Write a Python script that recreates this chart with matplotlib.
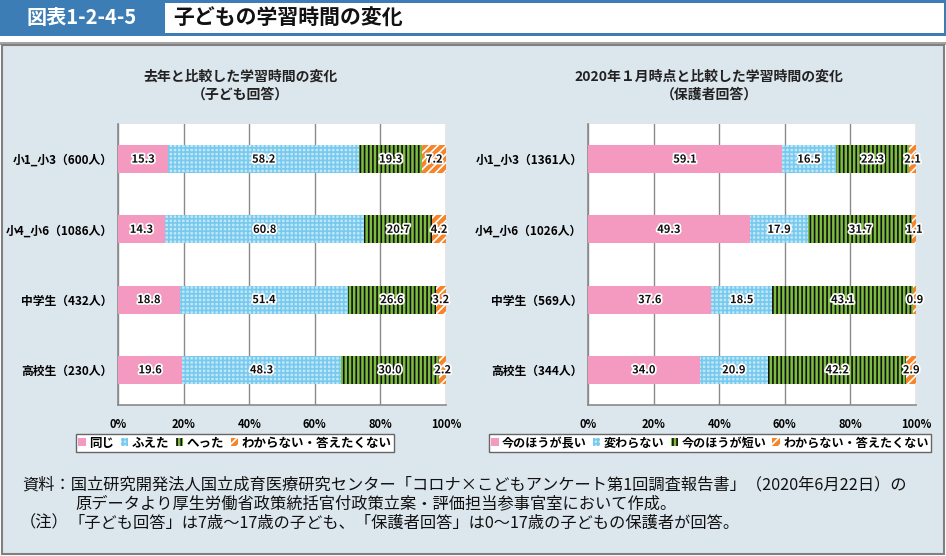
import matplotlib
matplotlib.use("Agg")
import matplotlib.pyplot as plt
from matplotlib.patches import Rectangle, Patch
import matplotlib.patheffects as pe

plt.rcParams['font.family'] = ['Noto Sans CJK JP', 'DejaVu Sans']
plt.rcParams['hatch.linewidth'] = 1.2

# ---------------- data ----------------
left_categories = ["小1_小3（600人）", "小4_小6（1086人）", "中学生（432人）", "高校生（230人）"]
left_series = ["同じ", "ふえた", "へった", "わからない・答えたくない"]
left_same = [15.3, 14.3, 18.8, 19.6]
left_more = [58.2, 60.8, 51.4, 48.3]
left_less = [19.3, 20.7, 26.6, 30.0]
left_unknown = [7.2, 4.2, 3.2, 2.2]

right_categories = ["小1_小3（1361人）", "小4_小6（1026人）", "中学生（569人）", "高校生（344人）"]
right_series = ["今のほうが長い", "変わらない", "今のほうが短い", "わからない・答えたくない"]
right_longer = [59.1, 49.3, 37.6, 34.0]
right_same = [16.5, 17.9, 18.5, 20.9]
right_shorter = [22.3, 31.7, 43.1, 42.2]
right_unknown = [2.1, 1.1, 0.9, 2.9]

x_ticks = [0, 20, 40, 60, 80, 100]
x_ticklabels = ["0%", "20%", "40%", "60%", "80%", "100%"]

left_title = "去年と比較した学習時間の変化\n（子ども回答）"
right_title = "2020年１月時点と比較した学習時間の変化\n（保護者回答）"
header_id = "図表1-2-4-5"
header_title = "子どもの学習時間の変化"
notes = [
    (22, 485, "資料：国立研究開発法人国立成育医療研究センター「コロナ×こどもアンケート第1回調査報告書」（2020年6月22日）の"),
    (75, 504, "原データより厚生労働省政策統括官付政策立案・評価担当参事官室において作成。"),
    (20, 523, "（注）"),
    (68, 523, "「子ども回答」は7歳～17歳の子ども、「保護者回答」は0～17歳の子どもの保護者が回答。"),
]

# ---------------- styles ----------------
styles = [
    dict(facecolor="#f49ac0", edgecolor="#f49ac0", hatch=None),
    dict(facecolor="#c2e8f8", edgecolor="#78c9ee", hatch="++++"),
    dict(facecolor="#7cbc3e", edgecolor="#111111", hatch="||||"),
    dict(facecolor="#f5842a", edgecolor="#ffffff", hatch="////"),
]

W, H = 946, 556
fig = plt.figure(figsize=(W / 100, H / 100), dpi=100)

bg = fig.add_axes([0, 0, 1, 1], zorder=0)
bg.set_xlim(0, W)
bg.set_ylim(H, 0)
bg.axis("off")
# header
bg.add_patch(Rectangle((0, 0), W, 36, facecolor="#3b7db4", edgecolor="none"))
bg.add_patch(Rectangle((165, 3), W - 167, 30, facecolor="white", edgecolor="none"))
bg.text(82, 18, header_id, color="white", fontsize=14.5, fontweight="bold", ha="center", va="center")
bg.text(173, 18, header_title, color="#111111", fontsize=15, fontweight="bold", ha="left", va="center")
# separator & panel
bg.add_patch(Rectangle((0, 42), W, 2.5, facecolor="#a5a5a5", edgecolor="none"))
bg.add_patch(Rectangle((1.5, 44.5), W - 4, H - 47, facecolor="#dce6ed", edgecolor="#808080", linewidth=1.5))
for x, y, t in notes:
    bg.text(x, y, t, fontsize=11.7, ha="left", va="center", color="#111111")


def draw_chart(rect, cats, series_vals, series_names, title, title_x, legend_box, legend_size):
    ax = fig.add_axes(rect, zorder=2)
    ax.set_facecolor("white")
    ypos = list(range(len(cats)))
    left = [0.0] * len(cats)
    for vals, st in zip(series_vals, styles):
        ax.barh(ypos, vals, left=left, height=0.4, facecolor=st["facecolor"],
                edgecolor=st["edgecolor"], hatch=st["hatch"], linewidth=0, zorder=3)
        for i, v in enumerate(vals):
            ax.text(left[i] + v / 2, ypos[i], f"{v:.1f}", ha="center", va="center",
                    fontsize=8, fontweight="bold", color="#111111", zorder=5,
                    path_effects=[pe.withStroke(linewidth=2.5, foreground="white")])
        left = [l + v for l, v in zip(left, vals)]
    ax.set_xlim(0, 100)
    ax.set_ylim(len(cats) - 0.5, -0.5)
    ax.set_yticks(ypos)
    ax.set_yticklabels(cats, fontsize=8.5, fontweight="bold")
    ax.set_xticks(x_ticks)
    ax.set_xticklabels(x_ticklabels, fontsize=8, fontweight="bold")
    ax.tick_params(length=0)
    ax.tick_params(axis="y", pad=4)
    ax.tick_params(axis="x", pad=9)
    ax.grid(axis="x", color="#8a8a8a", linewidth=1, zorder=1)
    ax.set_axisbelow(True)
    for s in ["top", "right"]:
        ax.spines[s].set_visible(False)
    for s in ["left", "bottom"]:
        ax.spines[s].set_color("#8a8a8a")
        ax.spines[s].set_linewidth(1.2)
    fig.text(title_x / W, 1 - 86 / H, title, ha="center", va="center", fontsize=10,
             fontweight="bold", linespacing=1.35, color="#222222")
    handles = [Patch(facecolor=st["facecolor"], edgecolor=st["edgecolor"], hatch=st["hatch"], linewidth=0)
               for st in styles]
    x0, x1 = legend_box
    leg = fig.legend(handles, series_names, loc="center", ncol=4,
                     bbox_to_anchor=((x0 + x1) / 2 / W, 1 - 443 / H),
                     prop=dict(weight="bold", size=legend_size),
                     handlelength=0.6, handleheight=0.6, handletextpad=0.3,
                     columnspacing=0.5, borderpad=0.2, fancybox=False,
                     frameon=True, edgecolor="#666666", framealpha=1)
    leg.get_frame().set_linewidth(1)
    return ax


ax_l = draw_chart([118 / W, 1 - 405 / H, 328 / W, 281 / H], left_categories,
                  [left_same, left_more, left_less, left_unknown], left_series,
                  left_title, 240, (75, 395), 9)
ax_r = draw_chart([588 / W, 1 - 405 / H, 328 / W, 281 / H], right_categories,
                  [right_longer, right_same, right_shorter, right_unknown], right_series,
                  right_title, 709, (499, 921), 8.7)

fig.savefig("out.png", dpi=100)
